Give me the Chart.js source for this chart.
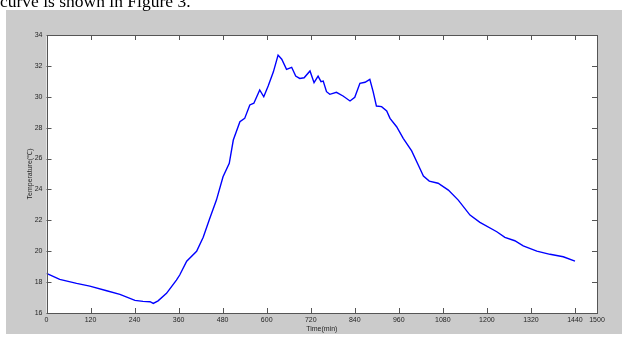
<!DOCTYPE html>
<html>
<head>
<meta charset="utf-8">
<script src="https://cdn.jsdelivr.net/npm/chart.js@4/dist/chart.umd.min.js"></script>
<style>
  html, body { margin: 0; padding: 0; background: #ffffff; }
  #wrap { position: relative; width: 622px; height: 340px; overflow: hidden; }
  #caption { position: absolute; left: 0; top: -8px; font-family: "Liberation Serif", "Times New Roman", serif; font-size: 17.5px; line-height: 18px; color: #000; white-space: nowrap; }
  canvas { position: absolute; left: 0; top: 0; }
</style>
</head>
<body>
<div id="wrap">
  <canvas id="c" width="622" height="340"></canvas>
  <div id="caption">curve is shown in Figure 3.</div>
</div>
<script>
// Temperature over one day (minutes since midnight)
const timeMin = [0, 36, 82, 118, 164, 200, 241, 263, 282, 291, 304, 327, 354, 363, 382, 409, 427, 445, 463, 481,
  498, 509, 527, 540, 554, 565, 581, 592, 604, 618, 631, 641, 654, 668, 679, 690, 702, 718, 729, 740,
  748, 754, 763, 772, 790, 808, 827, 840, 854, 868, 881, 890, 899, 913, 927, 936, 954, 972, 995, 1013,
  1027, 1043, 1067, 1095, 1122, 1154, 1181, 1227, 1249, 1276, 1299, 1336, 1372, 1408, 1440];
const temperature = [18.57, 18.18, 17.92, 17.74, 17.44, 17.21, 16.82, 16.75, 16.73, 16.62, 16.79, 17.27, 18.13, 18.46, 19.35, 20.0, 20.9, 22.13, 23.31, 24.82,
  25.69, 27.2, 28.39, 28.6, 29.47, 29.58, 30.44, 30.0, 30.7, 31.6, 32.7, 32.43, 31.78, 31.91, 31.34, 31.19, 31.23, 31.67, 30.91, 31.34,
  30.98, 31.02, 30.33, 30.16, 30.29, 30.05, 29.73, 29.97, 30.87, 30.94, 31.13, 30.33, 29.4, 29.36, 29.08, 28.6, 28.06, 27.31, 26.5, 25.58,
  24.87, 24.54, 24.4, 23.96, 23.31, 22.34, 21.87, 21.26, 20.9, 20.68, 20.35, 20.01, 19.8, 19.64, 19.36];

const xTickValues = [0, 120, 240, 360, 480, 600, 720, 840, 960, 1080, 1200, 1320, 1440, 1500];
const yTickValues = [16, 18, 20, 22, 24, 26, 28, 30, 32, 34];

const axisColor = '#555555';
const labelColor = '#262626';
const tickFont = { family: '"Liberation Sans", Arial, sans-serif', size: 7 };

// Grey figure panel behind a white plot area
const panelPlugin = {
  id: 'panel',
  beforeDraw(chart) {
    const ctx = chart.ctx;
    const a = chart.chartArea;
    ctx.save();
    ctx.fillStyle = '#cbcbcb';
    ctx.fillRect(6, 10, 616, 324);
    ctx.fillStyle = '#ffffff';
    ctx.fillRect(a.left, a.top, a.right - a.left, a.bottom - a.top);
    ctx.restore();
  }
};

// Boxed axes with tick marks pointing into the plot on all four sides
const boxPlugin = {
  id: 'box',
  afterDatasetsDraw(chart) {
    const ctx = chart.ctx;
    const a = chart.chartArea;
    const xs = chart.scales.x, ys = chart.scales.y;
    const len = 5;
    ctx.save();
    ctx.strokeStyle = axisColor;
    ctx.lineWidth = 1;
    ctx.beginPath();
    xTickValues.forEach(v => {
      const px = Math.round(xs.getPixelForValue(v)) + 0.5;
      ctx.moveTo(px, a.bottom); ctx.lineTo(px, a.bottom - len);
      ctx.moveTo(px, a.top); ctx.lineTo(px, a.top + len);
    });
    yTickValues.forEach(v => {
      const py = Math.round(ys.getPixelForValue(v)) + 0.5;
      ctx.moveTo(a.left, py); ctx.lineTo(a.left + len, py);
      ctx.moveTo(a.right, py); ctx.lineTo(a.right - len, py);
    });
    ctx.stroke();
    ctx.strokeRect(Math.round(a.left) + 0.5, Math.round(a.top) + 0.5,
      Math.round(a.right) - Math.round(a.left), Math.round(a.bottom) - Math.round(a.top));
    ctx.restore();
  }
};

new Chart(document.getElementById('c'), {
  type: 'line',
  data: {
    datasets: [{
      data: timeMin.map((t, i) => ({ x: t, y: temperature[i] })),
      borderColor: '#0000ff',
      borderWidth: 1.4,
      pointRadius: 0,
      tension: 0,
      fill: false
    }]
  },
  options: {
    responsive: false,
    animation: false,
    events: [],
    layout: { padding: { left: 0, right: 25, top: 35, bottom: 0 } },
    plugins: { legend: { display: false }, tooltip: { enabled: false } },
    scales: {
      x: {
        type: 'linear',
        min: 0,
        max: 1500,
        afterBuildTicks(scale) { scale.ticks = xTickValues.map(v => ({ value: v })); },
        afterFit(scale) { scale.height = 27; },
        grid: { display: false, drawTicks: false },
        border: { display: false },
        ticks: {
          autoSkip: false, maxRotation: 0, padding: 3,
          color: labelColor, font: tickFont,
          callback: v => String(v)
        },
        title: {
          display: true, text: 'Time(min)', color: labelColor, font: tickFont,
          padding: { top: 0, bottom: 7 }
        }
      },
      y: {
        type: 'linear',
        min: 16,
        max: 34,
        afterBuildTicks(scale) { scale.ticks = yTickValues.map(v => ({ value: v })); },
        afterFit(scale) { scale.width = 46.5; },
        grid: { display: false, drawTicks: false },
        border: { display: false },
        ticks: {
          padding: 4, color: labelColor, font: tickFont,
          callback: v => String(v)
        },
        title: {
          display: true, text: 'Temperature(℃)', color: labelColor, font: tickFont,
          padding: { top: 26, bottom: 0 }
        }
      }
    }
  },
  plugins: [panelPlugin, boxPlugin]
});
</script>
</body>
</html>
